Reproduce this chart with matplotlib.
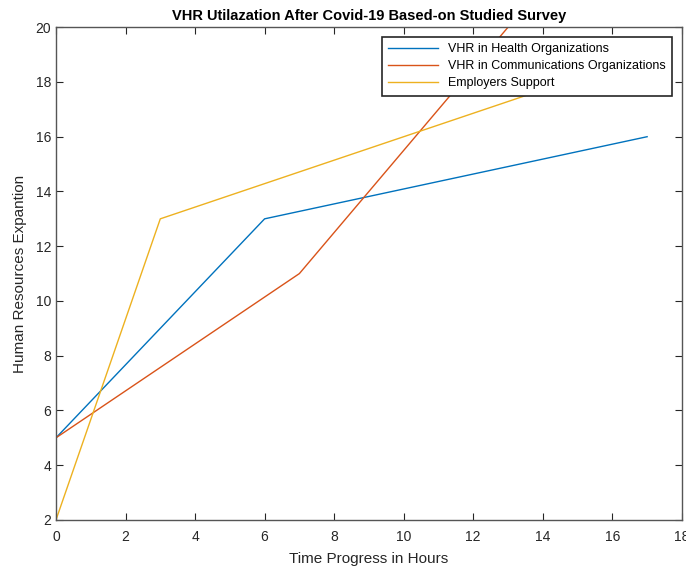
import matplotlib.pyplot as plt

# data
health_x = [0, 6, 17]
health_y = [5, 13, 16]
comm_x = [0, 7, 13]
comm_y = [5, 11, 20]
support_x = [0, 3, 17]
support_y = [2, 13, 19]

labels = ["VHR in Health Organizations",
          "VHR in Communications Organizations",
          "Employers Support"]
colors = ["#0072BD", "#D95319", "#EDB120"]

plt.rcParams['font.family'] = ['Liberation Sans', 'DejaVu Sans']

fig = plt.figure(figsize=(6.86, 5.67), dpi=100)
ax = fig.add_axes([0.0816, 0.083, 0.9124, 0.869])

ax.plot(health_x, health_y, color=colors[0], lw=1.0, label=labels[0])
ax.plot(comm_x, comm_y, color=colors[1], lw=1.0, label=labels[1])
ax.plot(support_x, support_y, color=colors[2], lw=1.0, label=labels[2])

ax.set_xlim(0, 18)
ax.set_ylim(2, 20)
ax.set_xticks(range(0, 19, 2))
ax.set_yticks(range(2, 21, 2))
ax.tick_params(direction='in', top=True, right=True, length=5, width=0.8,
               labelsize=10, colors='#262626')
ax.tick_params(axis='x', pad=7)
for s in ax.spines.values():
    s.set_color('#555555')
    s.set_linewidth(1.0)

ax.set_xlabel("Time Progress in Hours", fontsize=11, color='#262626', labelpad=6)
ax.set_ylabel("Human Resources Expantion", fontsize=11, color='#262626', labelpad=6)
ax.set_title("VHR Utilazation After Covid-19 Based-on Studied Survey",
             fontsize=10.5, fontweight='bold', pad=5)

leg = ax.legend(loc='upper right', fontsize=9, fancybox=False, framealpha=1,
                edgecolor='#262626', borderaxespad=0.8, handlelength=4,
                labelspacing=0.4, borderpad=0.5)
leg.get_frame().set_linewidth(1.2)

fig.savefig("out.png", dpi=100)
